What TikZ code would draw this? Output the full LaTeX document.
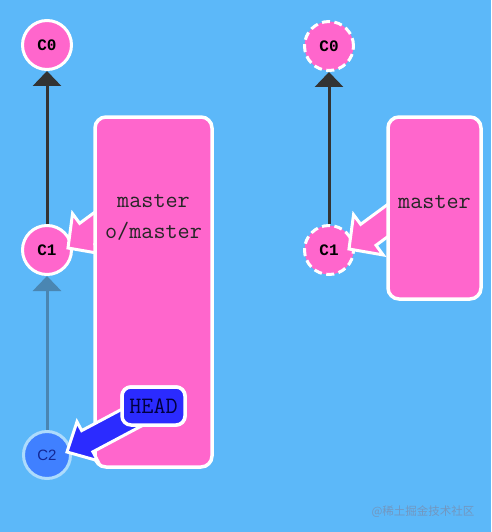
\documentclass[tikz,border=0pt]{standalone}
\usepackage{fontspec}
\newfontfamily\mono{Liberation Mono}
\newfontfamily\sansf{Liberation Sans}
\newfontfamily\cjk{Noto Sans CJK SC}
\usetikzlibrary{calc,arrows.meta}
\definecolor{bg}{HTML}{5CB8F9}
\definecolor{pinkc}{HTML}{FF66CC}
\definecolor{bluec}{HTML}{2B2BFF}
\definecolor{fadeblue}{HTML}{4080FF}
\definecolor{fadeline}{HTML}{4A86B2}
\definecolor{darkl}{HTML}{333333}
\definecolor{wm}{HTML}{7297C0}
\tikzset{
  commit/.style={circle, fill=pinkc, draw=white, line width=3pt, minimum size=49pt, inner sep=0pt, font=\mono\bfseries\fontsize{16}{16}\selectfont},
  ghost/.style={commit, dash pattern=on 8pt off 4.5pt},
  faded/.style={circle, fill=fadeblue, draw=white!50!bg, line width=3pt, minimum size=47pt, inner sep=0pt, text=black!60!blue!70!fadeblue, font=\sansf\fontsize{15}{15}\selectfont},
  branch/.style={rounded corners=11pt, fill=pinkc, draw=white, line width=3.5pt, inner sep=0pt},
  label/.style={font=\ttfamily\fontsize{23.5}{23.5}\selectfont, text=black!85},
  headbox/.style={rounded corners=9pt, fill=bluec, draw=white, line width=3.5pt, minimum width=63pt, minimum height=38pt, inner sep=0pt, font=\ttfamily\fontsize{23.5}{23.5}\selectfont, text=black!75!blue},
  parent/.style={line width=3pt, draw=darkl, -{Triangle[width=28pt,length=15pt]}},
  fparent/.style={parent, draw=fadeline},
}
\newcommand\blockarr[6]{%
  \coordinate (baB) at ($(#1)!#3!(#2)$);
  \filldraw[fill=#6, draw=white, line width=3pt, line join=miter]
    (#1) -- ($(baB)!#4!90:(#2)$) -- ($(baB)!#5!90:(#2)$) -- ($(#2)!#5!-90:(baB)$)
    -- ($(#2)!#5!90:(baB)$) -- ($(baB)!#5!-90:(#2)$) -- ($(baB)!#4!-90:(#2)$) -- cycle;
}
\begin{document}
\begin{tikzpicture}[x=1pt,y=-1pt]
\useasboundingbox[fill=bg] (0,0) rectangle (491,532);

% left side
\node[commit] (c0L) at (47,45) {C0};
\node[commit] (c1L) at (47,250) {C1};
\node[faded] (c2L) at (47,455) {C2};
\draw[fparent] (c2L) -- (c1L);
\draw[parent] (c1L) -- (c0L);

\coordinate (tipL) at ($(c1L.center)+(21,-2)$);
\coordinate (tailL) at ($(tipL)+(49,-36)$);
\blockarr{tipL}{tailL}{24pt}{25pt}{13pt}{pinkc}

\draw[branch] (95,117) rectangle (212,467);
\node (masterL) at (153.5,292) {};
\node[label] (mL1) at (153.5,201) {master};
\node[label] (mL2) at (153.5,231) {o/master};

\node[headbox] (headL) at (153.5,406) {};
\coordinate (tipH) at ($(c2L.center)+(20,-3)$);
\blockarr{tipH}{headL.center}{23pt}{22pt}{12pt}{bluec}
\node[headbox] (headLb) at (153.5,406) {HEAD};

% right side
\node[ghost] (c0R) at (329,46) {C0};
\node[ghost] (c1R) at (329,250) {C1};
\draw[parent] (c1R) -- (c0R);

\coordinate (tipR) at ($(c1R.center)+(20,-1)$);
\coordinate (tailR) at ($(tipR)+(49,-36)$);
\blockarr{tipR}{tailR}{24pt}{25pt}{13pt}{pinkc}
\draw[branch] (388,117) rectangle (481,299);
\node[label] (masterR) at (434.5,202) {master};

% watermark
\node[text=wm, font=\cjk\fontsize{11.5}{11.5}\selectfont, anchor=east] (wmk) at (478,512) {@稀土掘金技术社区};
\end{tikzpicture}
\end{document}
